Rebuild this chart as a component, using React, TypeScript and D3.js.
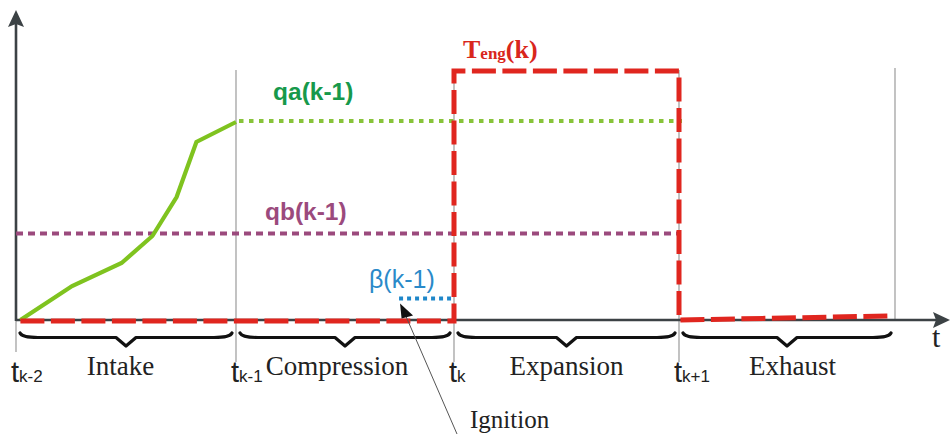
import React from "react";
import * as d3 from "d3";

// ---- data ----
const phaseNames = ["Intake", "Compression", "Expansion", "Exhaust"];
const boundaryTimes = [0, 1, 2, 3, 4];
const tickSubs = ["k-2", "k-1", "k", "k+1"];

// qa(k-1): rising intake curve, then held
const qaTimes = [0.02, 0.255, 0.48, 0.62, 0.73, 0.82, 1.0];
const qaValues = [0.004, 0.14, 0.232, 0.34, 0.496, 0.716, 0.796];
const qaHoldTimes = [1.0, 3.0];
const qaHoldValues = [0.8, 0.8];

// qb(k-1)
const qbTimes = [0.0, 3.0];
const qbValues = [0.35, 0.35];

// beta(k-1)
const betaTimes = [1.748, 2.0];
const betaValues = [0.09, 0.09];

// Teng(k)
const tengTimes = [0.02, 2.0, 2.0, 3.0, 3.0, 3.97];
const tengValues = [0.0, 0.0, 1.0, 1.0, 0.004, 0.02];

const W = 951;
const H = 434;

const serif = "'Liberation Serif', 'Times New Roman', serif";
const sans = "'Liberation Sans', Arial, sans-serif";

function zip(ts: number[], vs: number[]): [number, number][] {
  return ts.map((t, i) => [t, vs[i]]);
}

export default function App() {
  const x = d3.scaleLinear().domain(boundaryTimes).range([16, 236, 454, 679, 895]);
  const y = d3.scaleLinear().domain([0, 1]).range([321, 71]);
  const line = d3
    .line<[number, number]>()
    .x((d) => x(d[0]))
    .y((d) => y(d[1]));

  const axisY = 320;
  const axisColor = "#3c4245";

  const brace = (a: number, b: number) => {
    const c = (a + b) / 2;
    const top = 333;
    const mid = 337.5;
    const tip = 346;
    return `M${a},${top} Q${a + 2},${mid} ${a + 18},${mid} L${c - 10},${mid} L${c},${tip} L${c + 10},${mid} L${b - 18},${mid} Q${b - 2},${mid} ${b},${top}`;
  };

  const labelOffsets = [-5.5, -8, 0, 5.5];

  // ignition arrow tip anchored just above the Teng baseline near beta start
  const tipX = x(betaTimes[0]) + 1;
  const tipY = y(betaValues[0]) + 5;

  return (
    <svg
      width={W}
      height={H}
      viewBox={`0 0 ${W} ${H}`}
      style={{ position: "absolute", left: 0, top: 0, background: "#fff" }}
    >
      {/* vertical boundary lines */}
      {boundaryTimes.slice(1).map((t, i) => (
        <line
          key={"v" + i}
          x1={x(t)}
          x2={x(t)}
          y1={t === 4 ? 68 : 70}
          y2={t === 4 ? axisY : 362}
          stroke="#9a9a9a"
          strokeWidth={1.2}
        />
      ))}
      <line x1={x(0)} x2={x(0)} y1={axisY} y2={352} stroke="#9a9a9a" strokeWidth={1.2} />

      {/* axes */}
      <line x1={x(0)} x2={x(0)} y1={axisY + 1} y2={20} stroke={axisColor} strokeWidth={2.6} />
      <path d={`M${x(0)},10 L${x(0) + 8},27 L${x(0)},24 L${x(0) - 8},27 Z`} fill={axisColor} />
      <line x1={x(0)} x2={940} y1={axisY} y2={axisY} stroke={axisColor} strokeWidth={2.4} />
      <path d={`M950,${axisY} L933,${axisY - 8} L936,${axisY} L933,${axisY + 8} Z`} fill={axisColor} />

      {/* qb */}
      <path d={line(zip(qbTimes, qbValues)) || ""} fill="none" stroke="#9b4a7d" strokeWidth={4} strokeDasharray="7 5" />

      {/* qa */}
      <path d={line(zip(qaTimes, qaValues)) || ""} fill="none" stroke="#7fc31f" strokeWidth={4.2} strokeLinejoin="miter" />
      <path d={line(zip(qaHoldTimes, qaHoldValues)) || ""} fill="none" stroke="#88c43a" strokeWidth={4.2} strokeDasharray="4.5 5.5" transform="translate(3,0)" />

      {/* beta */}
      <path d={line(zip(betaTimes, betaValues)) || ""} fill="none" stroke="#1f87c9" strokeWidth={4} strokeDasharray="4 4" />

      {/* Teng */}
      <path d={line(zip(tengTimes, tengValues)) || ""} fill="none" stroke="#e0261f" strokeWidth={5} strokeDasharray="24 6.5" />

      {/* braces */}
      {phaseNames.map((p, i) => (
        <path
          key={"b" + i}
          d={brace(x(boundaryTimes[i]) + 4, x(boundaryTimes[i + 1]) - 4)}
          fill="none"
          stroke="#111"
          strokeWidth={3.2}
          strokeLinecap="round"
          strokeLinejoin="round"
        />
      ))}

      {/* phase labels */}
      {phaseNames.map((p, i) => (
        <text
          key={"p" + i}
          x={(x(boundaryTimes[i]) + x(boundaryTimes[i + 1])) / 2 + labelOffsets[i]}
          y={375}
          textAnchor="middle"
          fontFamily={serif}
          fontSize={27}
          fill="#222"
        >
          {p}
        </text>
      ))}

      {/* tick labels */}
      {tickSubs.map((s, i) => (
        <text key={"t" + i} x={x(boundaryTimes[i]) - 5} y={382} fontFamily={sans} fill="#222">
          <tspan fontSize={29}>t</tspan>
          <tspan fontSize={17}>{s}</tspan>
        </text>
      ))}
      <text x={932} y={347} fontFamily={serif} fontSize={30} fill="#222">
        t
      </text>

      {/* series labels */}
      <text x={x(1.17)} y={y(0.884)} fontFamily={sans} fontWeight="bold" fontSize={24.5} fill="#17994b">
        qa(k-1)
      </text>
      <text x={x(1.133)} y={y(0.405)} fontFamily={sans} fontWeight="bold" fontSize={24.5} fill="#9b4a7d">
        qb(k-1)
      </text>
      <text x={x(1.61)} y={y(0.132)} fontFamily={sans} fontSize={25} fill="#2a8ac9">
        β(k-1)
      </text>
      <text x={x(2.04)} y={y(1.052)} fontFamily={serif} fontWeight="bold" fill="#d9261c">
        <tspan fontSize={26}>T</tspan>
        <tspan fontSize={17} dy={1}>eng</tspan>
        <tspan fontSize={26} dy={-1}>(k)</tspan>
      </text>

      {/* Ignition */}
      <line x1={457} y1={434} x2={tipX + 6} y2={tipY + 13} stroke="#555" strokeWidth={1} />
      <path d={`M${tipX},${tipY} L${tipX + 1.5},${tipY + 15} L${tipX + 13},${tipY + 12} Z`} fill="#111" />
      <text x={470} y={428} fontFamily={serif} fontSize={25} fill="#222">
        Ignition
      </text>
    </svg>
  );
}
